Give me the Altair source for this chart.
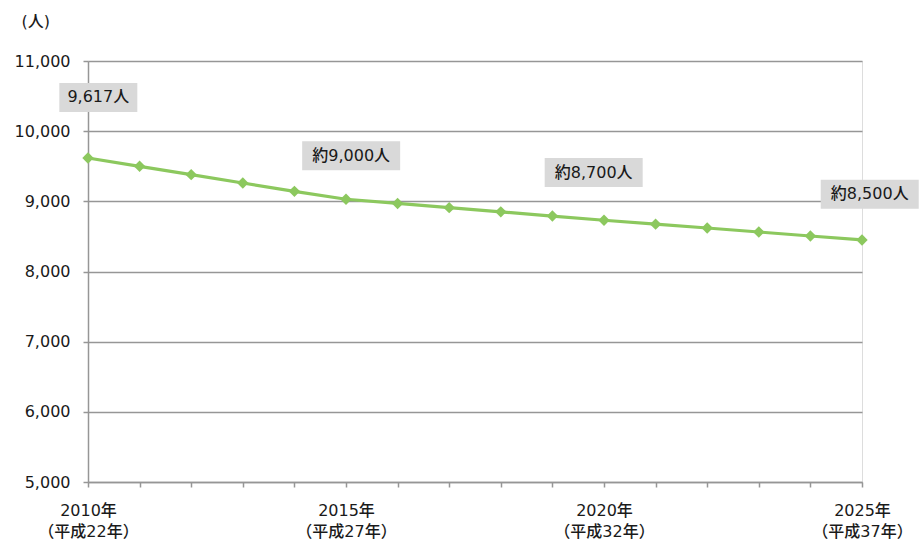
import altair as alt
import pandas as pd

# Projected population by year
years = list(range(2010, 2026))
population = [9617, 9499, 9380, 9261, 9142, 9030, 8970, 8910, 8850, 8790,
              8730, 8675, 8620, 8563, 8506, 8450]

# Callout labels and the spot (year, persons) each one is centred on
label_text = ["9,617人", "約9,000人", "約8,700人", "約8,500人"]
label_year = [2010.2, 2015.1, 2019.8, 2025.15]
label_level = [10480, 9650, 9410, 9100]

# Axis tick values and labels
y_ticks = [5000, 6000, 7000, 8000, 9000, 10000, 11000]
x_label_years = [2010, 2015, 2020, 2025]
x_label_lines = [["2010年", "（平成22年）"],
                 ["2015年", "（平成27年）"],
                 ["2020年", "（平成32年）"],
                 ["2025年", "（平成37年）"]]

FONT = "DejaVu Sans, Noto Sans CJK JP"
FS = 16
WEIGHT = 500
GREEN = "#8cc85e"
GRID = "#969696"
TEXT = "#1a1a1a"

df = pd.DataFrame({"year": years, "population": population})
labels = pd.DataFrame({"label": label_text, "lx": label_year, "ly": label_level})

# labelExpr mapping each labelled year to its two-line label
parts = []
for yr, lines in zip(x_label_years, x_label_lines):
    parts.append(f"datum.value == {yr} ? ['{lines[0]}', '{lines[1]}']")
label_expr = " : ".join(parts) + " : ''"

x_scale = alt.Scale(domain=[2010, 2025], nice=False, zero=False)
y_scale = alt.Scale(domain=[5000, 11000], nice=False, zero=False)

x_enc = alt.X(
    "year:Q", scale=x_scale, title=None,
    axis=alt.Axis(values=years, labelExpr=label_expr, grid=False,
                  domainColor=GRID, domainWidth=1.5, tickColor=GRID,
                  tickWidth=1.5, tickSize=5, labelPadding=15,
                  labelFont=FONT, labelFontSize=FS, labelFontWeight=WEIGHT,
                  labelColor=TEXT, labelLineHeight=21, labelFlush=False,
                  labelOverlap=False, labelBaseline="top"),
)
y_enc = alt.Y(
    "population:Q", scale=y_scale, title="(人)",
    axis=alt.Axis(values=y_ticks, format=",.0f", grid=True, gridColor=GRID,
                  gridWidth=1.5, domainColor=GRID, domainWidth=1.5,
                  tickColor=GRID, tickWidth=1.5, tickSize=5, labelPadding=13,
                  labelFont=FONT, labelFontSize=FS, labelFontWeight=WEIGHT,
                  labelColor=TEXT,
                  titleAngle=0, titleX=-67, titleY=-40, titleAlign="left",
                  titleBaseline="middle", titleFont=FONT, titleFontSize=FS,
                  titleFontWeight=WEIGHT, titleColor=TEXT),
)

line = alt.Chart(df).mark_line(color=GREEN, strokeWidth=3.2).encode(x=x_enc, y=y_enc)
points = alt.Chart(df).mark_point(
    shape="diamond", filled=True, color=GREEN, size=130, opacity=1
).encode(x="year:Q", y="population:Q")

lx = alt.X("lx:Q", scale=x_scale)
ly = alt.Y("ly:Q", scale=y_scale)

box_short = alt.Chart(labels).transform_filter("length(datum.label) <= 6").mark_rect(
    color="#d9d9d9", width=78, height=29
).encode(x=lx, y=ly)
box_long = alt.Chart(labels).transform_filter("length(datum.label) > 6").mark_rect(
    color="#d9d9d9", width=98, height=29
).encode(x=lx, y=ly)
label_marks = alt.Chart(labels).mark_text(
    font=FONT, fontSize=FS, fontWeight=WEIGHT, color=TEXT,
    align="center", baseline="middle"
).encode(x=lx, y=ly, text="label:N")

chart = (
    alt.layer(line, points, box_short, box_long, label_marks)
    .properties(
        width=774, height=421,
        autosize=alt.AutoSizeParams(type="none"),
        padding={"left": 88, "top": 61, "right": 57, "bottom": 64},
    )
    .configure_view(stroke=None)
    .configure(background="white")
)

chart.save("out.html", embed_options={"renderer": "svg", "actions": False})
